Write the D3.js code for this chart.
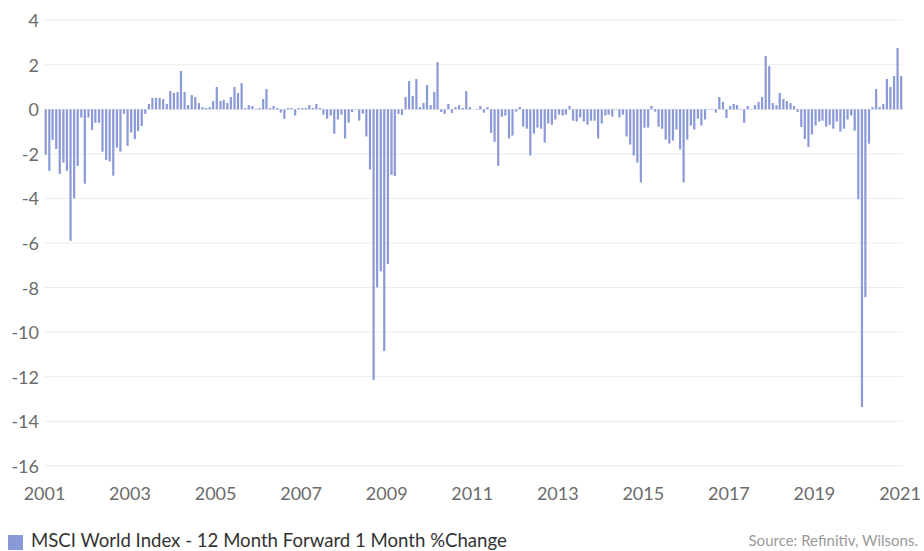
<!DOCTYPE html>
<html lang="en">
<head>
  <meta charset="UTF-8">
  <title>MSCI World Index - 12 Month Forward 1 Month %Change</title>
  <script src="https://d3js.org/d3.v7.min.js"></script>
  <style>
    body { margin: 0; background: #fff; }
    .grid line { stroke: #ebebeb; stroke-width: 1px; }
    .tick text { font-family: Lato, "Open Sans", sans-serif; fill: #6b6b6b; }
    .legend { font-family: Lato, "Open Sans", sans-serif; font-size: 18.6px; fill: #333; }
    .source { font-family: Lato, "Open Sans", sans-serif; font-size: 15px; fill: #9a9a9a; }
  </style>
</head>
<body>
  <svg width="924" height="551"></svg>
  <script>
    // monthly values, Jan 2001 .. Jan 2021
    const startYear = 2001;
    const values = [
      -2.04, -2.76, -1.37, -1.78, -2.9, -2.39, -2.76, -5.9, -4.0, -2.54, -0.37, -3.34,   // 2001
      -0.37, -0.93, -0.6, -0.6, -1.9, -2.27, -2.34, -2.98, -1.72, -1.9, -0.2, -1.64,     // 2002
      -1.04, -1.33, -0.97, -0.75, -0.21, 0.24, 0.51, 0.51, 0.51, 0.46, 0.24, 0.82,       // 2003
      0.73, 0.78, 1.72, 0.78, 0.19, 0.64, 0.55, 0.28, 0.1, 0.06, 0.1, 0.37,              // 2004
      1.0, 0.37, 0.42, 0.28, 0.55, 1.0, 0.73, 1.18, 0.06, 0.19, 0.15, 0.02,              // 2005
      0.06, 0.46, 0.91, 0.06, 0.15, 0.06, -0.15, -0.42, 0.06, 0.06, -0.28, 0.06,         // 2006
      0.06, 0.06, 0.19, 0.06, 0.24, 0.06, -0.24, -0.42, -0.28, -1.09, -0.46, -0.24,      // 2007
      -1.31, -0.6, -0.13, -0.02, -0.51, -0.19, -1.22, -2.7, -12.15, -7.99, -7.27, -10.85, // 2008
      -6.95, -2.94, -2.99, -0.21, -0.25, 0.55, 1.27, 0.6, 1.36, 0.1, 0.28, 1.09,         // 2009
      0.19, 0.78, 2.12, -0.12, -0.21, 0.24, -0.16, 0.1, 0.19, 0.06, 0.82, 0.1,           // 2010
      0.0, 0.02, 0.15, -0.15, 0.1, -1.06, -1.46, -2.54, -0.33, -0.28, -1.31, -1.18,      // 2011
      -0.1, 0.1, -0.78, -0.87, -2.07, -1.09, -0.82, -0.87, -1.49, -0.64, -0.69, -0.46,   // 2012
      -0.24, -0.28, -0.24, 0.15, -0.51, -0.55, -0.37, -0.55, -0.69, -0.51, -0.51, -1.31, // 2013
      -0.64, -0.28, -0.24, -0.33, -0.02, -0.37, -0.24, -1.22, -1.58, -2.07, -2.39, -3.28, // 2014
      -0.82, -0.82, 0.15, -0.1, -0.78, -0.87, -1.36, -1.54, -1.4, -0.91, -1.8, -3.28,    // 2015
      -1.36, -0.73, -0.91, -0.42, -0.73, -0.46, -0.02, 0.02, -0.15, 0.55, 0.33, -0.39,   // 2016
      0.15, 0.24, 0.19, 0.02, -0.61, 0.15, 0.02, 0.19, 0.33, 0.55, 2.39, 1.94,           // 2017
      0.28, 0.19, 0.73, 0.46, 0.37, 0.28, 0.15, -0.12, -0.79, -1.33, -1.69, -1.13,       // 2018
      -0.73, -0.55, -0.51, -0.78, -0.69, -0.87, -0.55, -1.0, -0.87, -0.46, -0.28, -0.96, // 2019
      -4.04, -13.36, -8.43, -1.54, 0.1, 0.91, 0.1, 0.24, 1.36, 1.0, 1.49, 2.75,          // 2020
      1.49                                                                               // 2021
    ];
    const yTicks = [4, 2, 0, -2, -4, -6, -8, -10, -12, -14, -16];
    const xTickYears = [2001, 2003, 2005, 2007, 2009, 2011, 2013, 2015, 2017, 2019, 2021];
    const seriesName = "MSCI World Index - 12 Month Forward 1 Month %Change";
    const sourceText = "Source: Refinitiv, Wilsons.";

    const data = values.map((v, i) => ({
      date: new Date(startYear + Math.floor(i / 12), i % 12, 1),
      value: v
    }));

    const svg = d3.select("svg");
    const barColor = "#8a99d7";

    const x = d3.scaleTime()
      .domain([new Date(2001, 0, 1), new Date(2021, 0, 1)])
      .range([44, 899.5]);

    const y = d3.scaleLinear()
      .domain([-16, 4])
      .range([465.8, 20.2]);

    // gridlines
    svg.append("g")
      .attr("class", "grid")
      .selectAll("line")
      .data(yTicks)
      .join("line")
        .attr("x1", 45)
        .attr("x2", 903)
        .attr("y1", d => y(d))
        .attr("y2", d => y(d));

    // y axis labels
    const yAxis = d3.axisLeft(y).tickValues(yTicks).tickSize(0).tickPadding(0)
      .tickFormat(d => d);
    svg.append("g")
      .attr("transform", "translate(39,0)")
      .call(yAxis)
      .call(g => g.select(".domain").remove())
      .selectAll("text")
        .attr("font-size", 18)
        .attr("dy", "0.36em");

    // x axis labels
    const xAxis = d3.axisBottom(x)
      .tickValues(xTickYears.map(yr => new Date(yr, 0, 1)))
      .tickSize(0).tickPadding(0)
      .tickFormat(d3.timeFormat("%Y"));
    svg.append("g")
      .attr("transform", "translate(0,500)")
      .call(xAxis)
      .call(g => g.select(".domain").remove())
      .selectAll("text")
        .attr("font-size", 18)
        .attr("dy", 0);

    // bars
    svg.append("g")
      .selectAll("rect")
      .data(data)
      .join("rect")
        .attr("x", d => x(d.date) + 0.6)
        .attr("width", 2.2)
        .attr("y", d => y(Math.max(0, d.value)))
        .attr("height", d => Math.abs(y(d.value) - y(0)))
        .attr("fill", barColor);

    // legend
    svg.append("rect")
      .attr("x", 8)
      .attr("y", 535)
      .attr("width", 15)
      .attr("height", 15)
      .attr("fill", barColor);
    svg.append("text")
      .attr("class", "legend")
      .attr("x", 31)
      .attr("y", 547)
      .text(seriesName);

    svg.append("text")
      .attr("class", "source")
      .attr("x", 918)
      .attr("y", 546)
      .attr("text-anchor", "end")
      .text(sourceText);
  </script>
</body>
</html>
